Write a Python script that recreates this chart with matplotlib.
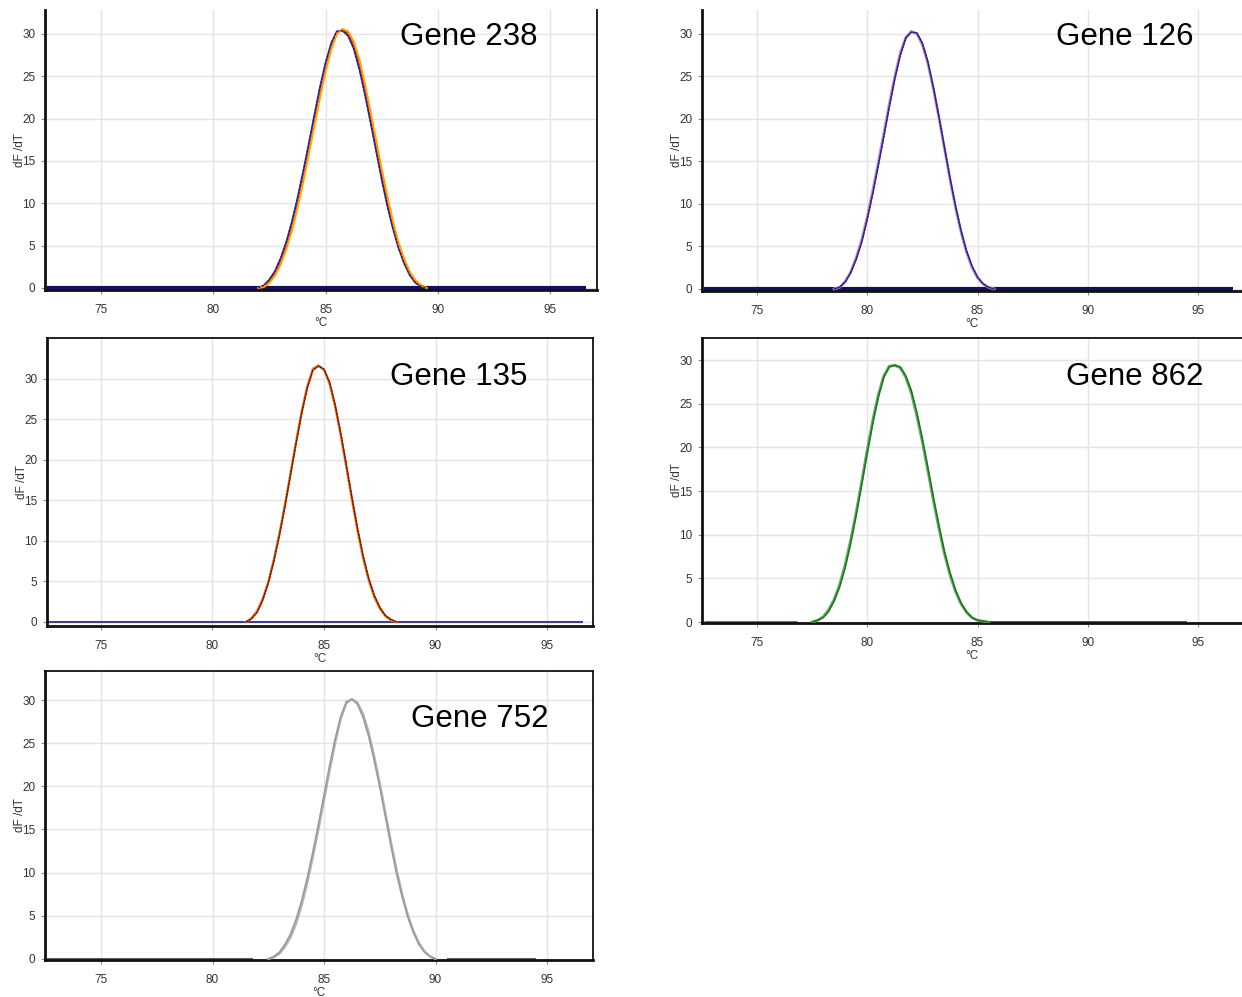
import matplotlib
matplotlib.use("Agg")
import matplotlib.pyplot as plt

plt.rcParams['font.family'] = ['Liberation Sans', 'DejaVu Sans']

# ---------------- data ----------------
gene_labels = ["Gene 238", "Gene 126", "Gene 135", "Gene 862", "Gene 752"]
x_ticks = [75, 80, 85, 90, 95]
y_ticks = [0, 5, 10, 15, 20, 25, 30]
run_start = 72.6
run_end = 96.6

# Gene 238
t_238 = [82.0, 82.25, 82.5, 82.75, 83.0, 83.25, 83.5, 83.75, 84.0, 84.25, 84.5, 84.75,
         85.0, 85.25, 85.5, 85.75, 86.0, 86.25, 86.5, 86.75, 87.0, 87.25, 87.5, 87.75,
         88.0, 88.25, 88.5, 88.75, 89.0, 89.25, 89.5]
g238_a = [0.0, 0.3, 1.0, 2.0, 3.5, 5.4, 7.8, 10.6, 13.7, 17.0, 20.4, 23.7,
          26.6, 28.9, 30.3, 30.4, 29.8, 28.3, 25.9, 22.9, 19.6, 16.2, 12.8, 9.7,
          7.0, 4.7, 2.9, 1.5, 0.6, 0.2, 0.0]
g238_b = [0.0, 0.2, 0.8, 1.7, 3.1, 4.9, 7.2, 9.9, 12.9, 16.2, 19.6, 22.9,
          25.9, 28.4, 30.1, 30.5, 30.1, 28.8, 26.6, 23.7, 20.4, 17.0, 13.6, 10.4,
          7.5, 5.1, 3.2, 1.8, 0.8, 0.3, 0.0]
g238_c = [0.0, 0.1, 0.6, 1.5, 2.8, 4.6, 6.8, 9.5, 12.5, 15.8, 19.2, 22.5,
          25.6, 28.2, 30.0, 30.6, 30.3, 29.1, 27.0, 24.1, 20.8, 17.4, 14.0, 10.8,
          7.8, 5.3, 3.4, 1.9, 0.9, 0.3, 0.0]

# Gene 126
t_126 = [78.5, 78.75, 79.0, 79.25, 79.5, 79.75, 80.0, 80.25, 80.5, 80.75, 81.0, 81.25,
         81.5, 81.75, 82.0, 82.25, 82.5, 82.75, 83.0, 83.25, 83.5, 83.75, 84.0, 84.25,
         84.5, 84.75, 85.0, 85.25, 85.5, 85.75]
g126_a = [0.0, 0.2, 0.9, 2.0, 3.7, 5.8, 8.5, 11.6, 14.9, 18.3, 21.8, 25.0,
          27.8, 29.6, 30.3, 30.0, 28.7, 26.5, 23.5, 20.1, 16.5, 12.9, 9.6, 6.7,
          4.3, 2.5, 1.3, 0.6, 0.2, 0.0]
g126_b = [0.0, 0.2, 0.8, 1.9, 3.5, 5.5, 8.2, 11.2, 14.5, 17.9, 21.4, 24.7,
          27.5, 29.5, 30.2, 30.1, 28.9, 26.7, 23.7, 20.3, 16.7, 13.1, 9.8, 6.9,
          4.5, 2.7, 1.4, 0.6, 0.2, 0.0]

# Gene 135
t_135 = [81.5, 81.75, 82.0, 82.25, 82.5, 82.75, 83.0, 83.25, 83.5, 83.75, 84.0, 84.25,
         84.5, 84.75, 85.0, 85.25, 85.5, 85.75, 86.0, 86.25, 86.5, 86.75, 87.0, 87.25,
         87.5, 87.75, 88.0, 88.25]
g135_a = [0.0, 0.5, 1.4, 2.9, 5.0, 7.8, 11.0, 14.6, 18.5, 22.4, 26.1, 29.2,
          31.3, 31.7, 31.1, 29.3, 26.5, 22.9, 19.0, 15.0, 11.2, 7.8, 5.1, 3.0,
          1.6, 0.7, 0.2, 0.0]
g135_b = [0.0, 0.4, 1.2, 2.7, 4.8, 7.5, 10.7, 14.3, 18.2, 22.1, 25.8, 28.9,
          31.1, 31.6, 31.2, 29.6, 26.8, 23.3, 19.4, 15.4, 11.6, 8.2, 5.4, 3.3,
          1.8, 0.8, 0.3, 0.0]

# Gene 862
t_862 = [77.5, 77.75, 78.0, 78.25, 78.5, 78.75, 79.0, 79.25, 79.5, 79.75, 80.0, 80.25,
         80.5, 80.75, 81.0, 81.25, 81.5, 81.75, 82.0, 82.25, 82.5, 82.75, 83.0, 83.25,
         83.5, 83.75, 84.0, 84.25, 84.5, 84.75, 85.0, 85.5]
g862_a = [0.0, 0.2, 0.6, 1.4, 2.6, 4.3, 6.6, 9.4, 12.6, 16.1, 19.7, 23.1,
          26.0, 28.2, 29.3, 29.4, 29.1, 28.0, 26.2, 23.6, 20.6, 17.3, 13.9, 10.7,
          7.8, 5.4, 3.5, 2.1, 1.1, 0.5, 0.2, 0.0]
g862_b = [0.0, 0.2, 0.5, 1.2, 2.4, 4.0, 6.2, 9.0, 12.2, 15.7, 19.3, 22.7,
          25.7, 28.0, 29.2, 29.4, 29.2, 28.2, 26.5, 24.0, 21.0, 17.7, 14.3, 11.1,
          8.1, 5.7, 3.7, 2.2, 1.2, 0.5, 0.2, 0.0]

# Gene 752
t_752 = [82.5, 82.75, 83.0, 83.25, 83.5, 83.75, 84.0, 84.25, 84.5, 84.75, 85.0, 85.25,
         85.5, 85.75, 86.0, 86.25, 86.5, 86.75, 87.0, 87.25, 87.5, 87.75, 88.0, 88.25,
         88.5, 88.75, 89.0, 89.25, 89.5, 89.75, 90.0]
g752_a = [0.0, 0.2, 0.6, 1.4, 2.5, 4.1, 6.2, 8.8, 11.8, 15.0, 18.4, 21.8,
          25.0, 27.8, 29.6, 30.1, 29.7, 28.4, 26.3, 23.5, 20.4, 17.0, 13.6, 10.4,
          7.6, 5.2, 3.3, 1.9, 0.9, 0.3, 0.0]
g752_b = [0.0, 0.3, 0.8, 1.7, 2.9, 4.6, 6.8, 9.4, 12.4, 15.6, 19.0, 22.4,
          25.5, 28.1, 29.8, 30.1, 29.5, 28.0, 25.8, 23.0, 19.9, 16.5, 13.1, 9.9,
          7.2, 4.9, 3.1, 1.7, 0.8, 0.3, 0.0]

# ---------------- layout / style ----------------
W, H = 1242, 997
fig = plt.figure(figsize=(W / 100, H / 100), dpi=100)


def px_axes(left, top, right, bottom):
    return fig.add_axes([left / W, 1 - bottom / H, (right - left) / W, (bottom - top) / H])


panels = [
    dict(box=(45, 10, 597, 290), xlim=(72.51, 97.08), ylim=(-0.24, 32.83),
         spines=("left", "bottom", "right"), t=t_238,
         curves=[(g238_a, "#5030b0", 1.4), (g238_b, "#d02020", 1.2), (g238_c, "#ffa000", 1.4)],
         over=(g238_a, "#202020", 0.8), base=("#101060", 3.0, run_start, run_end),
         label=gene_labels[0], lpos=(469, 37)),
    dict(box=(702, 10, 1242, 291), xlim=(72.51, 96.99), ylim=(-0.24, 32.8),
         spines=("left", "bottom"), t=t_126,
         curves=[(g126_a, "#d090e8", 2.0), (g126_b, "#3a3aa0", 1.2)],
         over=(g126_b, "#202040", 0.7), base=("#101060", 3.0, run_start, run_end),
         label=gene_labels[1], lpos=(1125, 37)),
    dict(box=(47, 338, 593, 626), xlim=(72.58, 97.06), ylim=(-0.5, 35.06),
         spines=("left", "bottom", "right", "top"), t=t_135,
         curves=[(g135_a, "#ff9a30", 1.6), (g135_b, "#c03010", 1.3)],
         over=(g135_b, "#202020", 0.7), base=("#404090", 1.5, run_start, run_end),
         label=gene_labels[2], lpos=(459, 377)),
    dict(box=(702, 338, 1242, 623), xlim=(72.51, 96.99), ylim=(-0.11, 32.52),
         spines=("left", "bottom", "top"), t=t_862,
         curves=[(g862_a, "#5cb85c", 2.0), (g862_b, "#2a6a2a", 1.1)],
         over=None, base=("#206020", 1.8, run_start, 76.8),
         tail=("#307030", 1.4, 85.5, 94.5),
         label=gene_labels[3], lpos=(1135, 377)),
    dict(box=(45, 671, 593, 960), xlim=(72.49, 97.06), ylim=(-0.12, 33.36),
         spines=("left", "bottom", "right", "top"), t=t_752,
         curves=[(g752_a, "#b4b4b4", 1.6), (g752_b, "#9a9a9a", 1.2)],
         over=None, base=("#606060", 1.5, run_start, 81.8),
         tail=("#606060", 1.5, 90.5, 94.5),
         label=gene_labels[4], lpos=(480, 719)),
]

for p in panels:
    ax = px_axes(*p["box"])
    ax.set_xlim(*p["xlim"])
    ax.set_ylim(*p["ylim"])
    ax.set_xticks(x_ticks)
    ax.set_yticks(y_ticks)
    ax.grid(True, color="#e4e4e4", linewidth=1.0)
    ax.set_axisbelow(True)
    ax.tick_params(labelsize=8.5, length=3, width=0.8, color="#888888", labelcolor="#333333")
    ax.tick_params(axis="x", pad=7)
    ax.tick_params(axis="y", pad=4)
    for s in ("left", "bottom", "right", "top"):
        if s in p["spines"]:
            ax.spines[s].set_visible(True)
            ax.spines[s].set_color("#111111")
            ax.spines[s].set_linewidth(2.0 if s in ("left", "bottom") else 1.3)
        else:
            ax.spines[s].set_visible(False)
    ax.set_xlabel("°C", fontsize=8.5, labelpad=1, color="#333333")
    ax.set_ylabel("dF /dT", fontsize=8.5, labelpad=-3, color="#333333")

    bc, bw, b0, b1 = p["base"]
    ax.plot([b0, b1], [0, 0], color=bc, linewidth=bw, solid_capstyle="butt", zorder=2)
    if "tail" in p:
        tc, tw, t0, t1 = p["tail"]
        ax.plot([t0, t1], [0, 0], color=tc, linewidth=tw, solid_capstyle="butt", zorder=2)
    for vals, col, lw in p["curves"]:
        ax.plot(p["t"], vals, color=col, linewidth=lw, zorder=3)
    if p["over"] is not None:
        vals, col, lw = p["over"]
        ax.plot(p["t"], vals, color=col, linewidth=lw, linestyle=(0, (2, 1.5)), zorder=4)

    fig.text(p["lpos"][0] / W, 1 - p["lpos"][1] / H, p["label"], fontsize=22.5,
             ha="center", va="center", color="black")

fig.savefig("out.png", dpi=100)
